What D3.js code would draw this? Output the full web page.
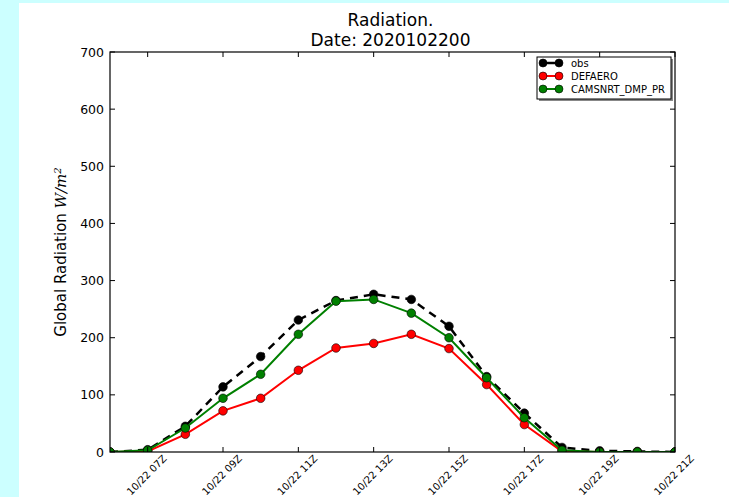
<!DOCTYPE html>
<html>
<head>
<meta charset="utf-8">
<script src="https://cdn.jsdelivr.net/npm/d3@7"></script>
<style>
  body { margin: 0; background: #ccffff; }
  svg { display: block; }
  text { font-family: "DejaVu Sans", sans-serif; fill: #000; }
</style>
</head>
<body>
<div id="chart"></div>
<script>
// Hourly values, 10/22 06Z .. 21Z
const hours = [6, 7, 8, 9, 10, 11, 12, 13, 14, 15, 16, 17, 18, 19, 20, 21];
const obs = [0, 4, 45, 114, 167, 231, 265, 276, 267, 220, 132, 68, 8, 2, 1, 0];
const defaero = [0, 1, 31, 72, 94, 143, 182, 190, 206, 181, 118, 48, 1, 0, 0, 0];
const cams = [0, 3, 42, 94, 136, 206, 264, 267, 243, 200, 130, 60, 3, 0, 0, 0];
const xTicks = [7, 9, 11, 13, 15, 17, 19, 21];
const yTicks = [0, 100, 200, 300, 400, 500, 600, 700];

const width = 729;
const height = 497;
const plot = { left: 110, right: 675, top: 52, bottom: 452 };

const svg = d3.select("#chart").append("svg")
    .attr("width", width)
    .attr("height", height);

// white figure area
svg.append("rect")
    .attr("x", 19).attr("y", 3)
    .attr("width", width - 19).attr("height", height - 3)
    .attr("fill", "#fff");

svg.append("clipPath").attr("id", "clip")
    .append("rect")
    .attr("x", plot.left).attr("y", plot.top)
    .attr("width", plot.right - plot.left).attr("height", plot.bottom - plot.top);

const x = d3.scaleLinear().domain([6, 21]).range([plot.left, plot.right]);
const y = d3.scaleLinear().domain([0, 700]).range([plot.bottom, plot.top]);

const pad = h => (h < 10 ? "0" : "") + h;

// series
const series = [
    { name: "obs", values: obs, color: "#000", width: 2.5, dash: "8,6" },
    { name: "DEFAERO", values: defaero, color: "#ff0000", width: 2, dash: null },
    { name: "CAMSNRT_DMP_PR", values: cams, color: "#008000", width: 2, dash: null }
];

const line = d3.line()
    .x((d, i) => x(hours[i]))
    .y(d => y(d));

const plotArea = svg.append("g").attr("clip-path", "url(#clip)");
series.forEach(s => {
    plotArea.append("path")
        .datum(s.values)
        .attr("d", line)
        .attr("fill", "none")
        .attr("stroke", s.color)
        .attr("stroke-width", s.width)
        .attr("stroke-dasharray", s.dash);
    plotArea.selectAll(null)
        .data(s.values)
        .enter()
        .append("circle")
        .attr("cx", (d, i) => x(hours[i]))
        .attr("cy", d => y(d))
        .attr("r", 4.3)
        .attr("fill", s.color)
        .attr("stroke", "#000")
        .attr("stroke-width", 0.6);
});

// ticks on all four sides, pointing inward
const tickLen = 5;
const ticks = svg.append("g").attr("stroke", "#000").attr("stroke-width", 1);
xTicks.forEach(t => {
    ticks.append("line").attr("x1", x(t)).attr("x2", x(t))
        .attr("y1", plot.bottom).attr("y2", plot.bottom - tickLen);
    ticks.append("line").attr("x1", x(t)).attr("x2", x(t))
        .attr("y1", plot.top).attr("y2", plot.top + tickLen);
});
yTicks.forEach(t => {
    ticks.append("line").attr("x1", plot.left).attr("x2", plot.left + tickLen)
        .attr("y1", y(t)).attr("y2", y(t));
    ticks.append("line").attr("x1", plot.right).attr("x2", plot.right - tickLen)
        .attr("y1", y(t)).attr("y2", y(t));
});

// y tick labels
svg.append("g").selectAll("text")
    .data(yTicks)
    .enter()
    .append("text")
    .attr("x", plot.left - 6)
    .attr("y", d => y(d))
    .attr("dy", "0.36em")
    .attr("text-anchor", "end")
    .attr("font-size", 12.5)
    .text(d => d);

// x tick labels, rotated
svg.append("g").selectAll("text")
    .data(xTicks)
    .enter()
    .append("text")
    .attr("transform", d => `translate(${x(d) - 1},475) rotate(-45)`)
    .attr("text-anchor", "middle")
    .attr("dy", "0.35em")
    .attr("font-size", 10)
    .text(d => "10/22 " + pad(d) + "Z");

// frame
svg.append("rect")
    .attr("x", plot.left).attr("y", plot.top)
    .attr("width", plot.right - plot.left).attr("height", plot.bottom - plot.top)
    .attr("fill", "none")
    .attr("stroke", "#000")
    .attr("stroke-width", 1.2);

// legend
const legend = svg.append("g");
legend.append("rect")
    .attr("x", 539).attr("y", 59).attr("width", 134).attr("height", 42)
    .attr("fill", "#888");
legend.append("rect")
    .attr("x", 537).attr("y", 57).attr("width", 134).attr("height", 42)
    .attr("fill", "#fff").attr("stroke", "#000").attr("stroke-width", 1);
series.forEach((s, i) => {
    const ly = 63 + i * 13;
    legend.append("line")
        .attr("x1", 543).attr("x2", 559).attr("y1", ly).attr("y2", ly)
        .attr("stroke", s.color).attr("stroke-width", s.width);
    [543, 559].forEach(cx => legend.append("circle")
        .attr("cx", cx).attr("cy", ly).attr("r", 4)
        .attr("fill", s.color).attr("stroke", "#000").attr("stroke-width", 0.6));
    legend.append("text")
        .attr("x", 571).attr("y", ly).attr("dy", "0.35em")
        .attr("font-size", 10)
        .text(s.name);
});

// title
const cx = (plot.left + plot.right) / 2;
svg.append("text").attr("x", cx - 2).attr("y", 26)
    .attr("text-anchor", "middle").attr("font-size", 17).text("Radiation.");
svg.append("text").attr("x", cx - 2).attr("y", 46)
    .attr("text-anchor", "middle").attr("font-size", 17).text("Date: 2020102200");

// y axis label
const yl = svg.append("text")
    .attr("transform", `translate(66,252) rotate(-90)`)
    .attr("text-anchor", "middle")
    .attr("font-size", 15);
yl.append("tspan").text("Global Radiation ");
yl.append("tspan").attr("font-family", "DejaVu Serif").attr("font-style", "italic").text("W/m");
yl.append("tspan").attr("font-family", "DejaVu Serif").attr("font-style", "italic")
    .attr("font-size", 10).attr("dy", "-0.5em").text("2");
</script>
</body>
</html>
